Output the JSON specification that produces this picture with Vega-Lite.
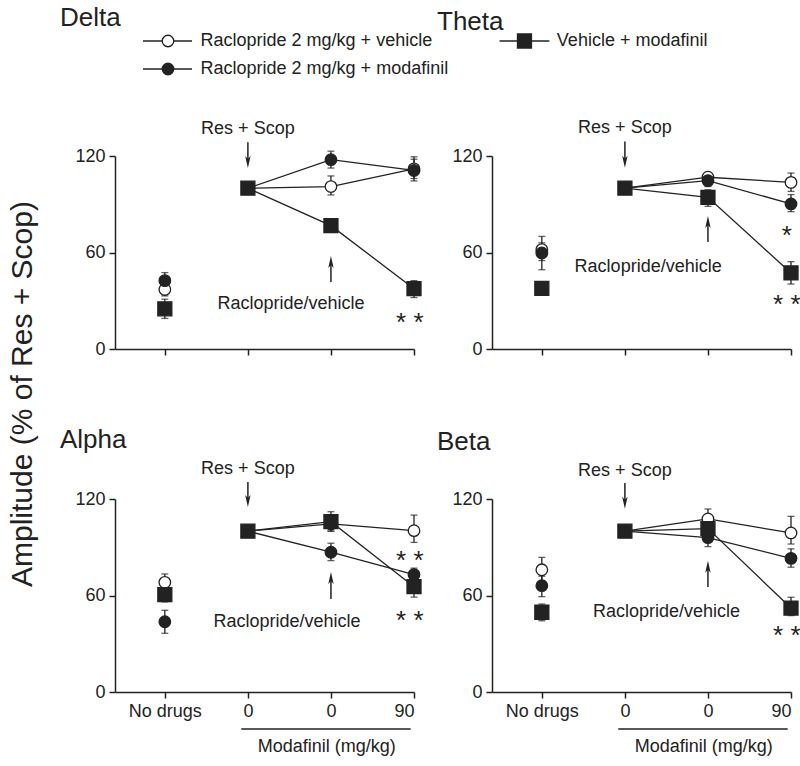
{
  "$schema": "https://vega.github.io/schema/vega-lite/v6.json",
  "background": "white",
  "padding": {"left": 7, "top": 5, "right": 4, "bottom": 4},
  "config": {
    "font": "Liberation Sans",
    "view": {"stroke": null},
    "axis": {"domainColor": "#222", "domainWidth": 1.5, "tickColor": "#222", "tickWidth": 1.5, "tickSize": 6, "labelFontSize": 18, "labelColor": "#222", "labelFont": "Liberation Sans", "grid": false, "labelPadding": 4},
    "title": {"fontSize": 26, "fontWeight": "normal", "color": "#222", "anchor": "start", "frame": "group", "dx": -55, "font": "Liberation Sans"}
  },
  "columns": 2,
  "spacing": {"row": 150, "column": 78},
  "bounds": "flush",
  "resolve": {"scale": {"fill": "independent", "shape": "independent"}},
  "datasets": {
    "pts": [
      {"p": "Delta", "g": "Raclopride 2 mg/kg + vehicle", "x": 0, "y": 37, "lo": 33, "hi": 41},
      {"p": "Delta", "g": "Raclopride 2 mg/kg + vehicle", "x": 1, "y": 100, "lo": null, "hi": null},
      {"p": "Delta", "g": "Raclopride 2 mg/kg + vehicle", "x": 2, "y": 101, "lo": 95.8, "hi": 107.6},
      {"p": "Delta", "g": "Raclopride 2 mg/kg + vehicle", "x": 3, "y": 112, "lo": 106, "hi": 118},
      {"p": "Delta", "g": "Raclopride 2 mg/kg + modafinil", "x": 0, "y": 42.5, "lo": 38, "hi": 47.5},
      {"p": "Delta", "g": "Raclopride 2 mg/kg + modafinil", "x": 1, "y": 100, "lo": null, "hi": null},
      {"p": "Delta", "g": "Raclopride 2 mg/kg + modafinil", "x": 2, "y": 117.7, "lo": 112.5, "hi": 123},
      {"p": "Delta", "g": "Raclopride 2 mg/kg + modafinil", "x": 3, "y": 111, "lo": 104.5, "hi": 119.5},
      {"p": "Delta", "g": "Vehicle + modafinil", "x": 0, "y": 25, "lo": 19, "hi": 31},
      {"p": "Delta", "g": "Vehicle + modafinil", "x": 1, "y": 100, "lo": null, "hi": null},
      {"p": "Delta", "g": "Vehicle + modafinil", "x": 2, "y": 76.7, "lo": 72.5, "hi": 80.5},
      {"p": "Delta", "g": "Vehicle + modafinil", "x": 3, "y": 37.5, "lo": 32, "hi": 42.5},
      {"p": "Theta", "g": "Raclopride 2 mg/kg + vehicle", "x": 0, "y": 61.8, "lo": 55, "hi": 70},
      {"p": "Theta", "g": "Raclopride 2 mg/kg + vehicle", "x": 1, "y": 100, "lo": null, "hi": null},
      {"p": "Theta", "g": "Raclopride 2 mg/kg + vehicle", "x": 2, "y": 106.8, "lo": 103, "hi": 109.8},
      {"p": "Theta", "g": "Raclopride 2 mg/kg + vehicle", "x": 3, "y": 103.6, "lo": 98, "hi": 109.4},
      {"p": "Theta", "g": "Raclopride 2 mg/kg + modafinil", "x": 0, "y": 59.7, "lo": 49.3, "hi": 66},
      {"p": "Theta", "g": "Raclopride 2 mg/kg + modafinil", "x": 1, "y": 100, "lo": null, "hi": null},
      {"p": "Theta", "g": "Raclopride 2 mg/kg + modafinil", "x": 2, "y": 104.7, "lo": 101, "hi": 108},
      {"p": "Theta", "g": "Raclopride 2 mg/kg + modafinil", "x": 3, "y": 90.2, "lo": 85.4, "hi": 96},
      {"p": "Theta", "g": "Vehicle + modafinil", "x": 0, "y": 37.7, "lo": 35.5, "hi": 40},
      {"p": "Theta", "g": "Vehicle + modafinil", "x": 1, "y": 100, "lo": null, "hi": null},
      {"p": "Theta", "g": "Vehicle + modafinil", "x": 2, "y": 94.3, "lo": 88.7, "hi": 99},
      {"p": "Theta", "g": "Vehicle + modafinil", "x": 3, "y": 47.3, "lo": 40.4, "hi": 54.3},
      {"p": "Alpha", "g": "Raclopride 2 mg/kg + vehicle", "x": 0, "y": 68.2, "lo": 63, "hi": 73.4},
      {"p": "Alpha", "g": "Raclopride 2 mg/kg + vehicle", "x": 1, "y": 100, "lo": null, "hi": null},
      {"p": "Alpha", "g": "Raclopride 2 mg/kg + vehicle", "x": 2, "y": 104.5, "lo": 100, "hi": 109},
      {"p": "Alpha", "g": "Raclopride 2 mg/kg + vehicle", "x": 3, "y": 100.3, "lo": 93, "hi": 110},
      {"p": "Alpha", "g": "Raclopride 2 mg/kg + modafinil", "x": 0, "y": 43.7, "lo": 36.5, "hi": 50.8},
      {"p": "Alpha", "g": "Raclopride 2 mg/kg + modafinil", "x": 1, "y": 100, "lo": null, "hi": null},
      {"p": "Alpha", "g": "Raclopride 2 mg/kg + modafinil", "x": 2, "y": 86.9, "lo": 81.7, "hi": 92.5},
      {"p": "Alpha", "g": "Raclopride 2 mg/kg + modafinil", "x": 3, "y": 73, "lo": 69.5, "hi": 77},
      {"p": "Alpha", "g": "Vehicle + modafinil", "x": 0, "y": 60.5, "lo": 56, "hi": 65},
      {"p": "Alpha", "g": "Vehicle + modafinil", "x": 1, "y": 100, "lo": null, "hi": null},
      {"p": "Alpha", "g": "Vehicle + modafinil", "x": 2, "y": 105.9, "lo": 100, "hi": 112.1},
      {"p": "Alpha", "g": "Vehicle + modafinil", "x": 3, "y": 65.5, "lo": 59, "hi": 72},
      {"p": "Beta", "g": "Raclopride 2 mg/kg + vehicle", "x": 0, "y": 76, "lo": 69, "hi": 83.7},
      {"p": "Beta", "g": "Raclopride 2 mg/kg + vehicle", "x": 1, "y": 100, "lo": null, "hi": null},
      {"p": "Beta", "g": "Raclopride 2 mg/kg + vehicle", "x": 2, "y": 107.6, "lo": 102, "hi": 113.8},
      {"p": "Beta", "g": "Raclopride 2 mg/kg + vehicle", "x": 3, "y": 98.9, "lo": 92, "hi": 109.2},
      {"p": "Beta", "g": "Raclopride 2 mg/kg + modafinil", "x": 0, "y": 66.1, "lo": 59.3, "hi": 72},
      {"p": "Beta", "g": "Raclopride 2 mg/kg + modafinil", "x": 1, "y": 100, "lo": null, "hi": null},
      {"p": "Beta", "g": "Raclopride 2 mg/kg + modafinil", "x": 2, "y": 96, "lo": 90.4, "hi": 101},
      {"p": "Beta", "g": "Raclopride 2 mg/kg + modafinil", "x": 3, "y": 83.1, "lo": 77.6, "hi": 89},
      {"p": "Beta", "g": "Vehicle + modafinil", "x": 0, "y": 49.6, "lo": 44.3, "hi": 54.7},
      {"p": "Beta", "g": "Vehicle + modafinil", "x": 1, "y": 100, "lo": null, "hi": null},
      {"p": "Beta", "g": "Vehicle + modafinil", "x": 2, "y": 101.6, "lo": 97, "hi": 106},
      {"p": "Beta", "g": "Vehicle + modafinil", "x": 3, "y": 52.2, "lo": 47.5, "hi": 58.9}
    ],
    "leg": [
      {"g": "Raclopride 2 mg/kg + vehicle", "x": 0.038, "y": 191.5, "lx1": -0.263, "lx2": 0.327, "tx": 0.43},
      {"g": "Raclopride 2 mg/kg + modafinil", "x": 0.038, "y": 174.1, "lx1": -0.263, "lx2": 0.327, "tx": 0.43},
      {"g": "Vehicle + modafinil", "x": 4.33, "y": 191.5, "lx1": 4.03, "lx2": 4.63, "tx": 4.72}
    ],
    "lab": [
      {"p": "Delta", "k": "a", "x": 1, "y": 137, "t": "Res + Scop"},
      {"p": "Delta", "k": "a", "x": 1.52, "y": 28, "t": "Raclopride/vehicle"},
      {"p": "Delta", "k": "s", "x": 2.95, "y": 20.7, "t": "* *"},
      {"p": "Theta", "k": "a", "x": 1, "y": 137.5, "t": "Res + Scop"},
      {"p": "Theta", "k": "a", "x": 1.28, "y": 51, "t": "Raclopride/vehicle"},
      {"p": "Theta", "k": "s", "x": 2.95, "y": 74.6, "t": "*"},
      {"p": "Theta", "k": "s", "x": 2.95, "y": 32, "t": "* *"},
      {"p": "Alpha", "k": "a", "x": 1, "y": 138.5, "t": "Res + Scop"},
      {"p": "Alpha", "k": "a", "x": 1.47, "y": 43.5, "t": "Raclopride/vehicle"},
      {"p": "Alpha", "k": "s", "x": 2.95, "y": 85.8, "t": "* *"},
      {"p": "Alpha", "k": "s", "x": 2.95, "y": 48.5, "t": "* *"},
      {"p": "Alpha", "k": "a", "x": 1.95, "y": -34, "t": "Modafinil (mg/kg)"},
      {"p": "Beta", "k": "a", "x": 1, "y": 137.5, "t": "Res + Scop"},
      {"p": "Beta", "k": "a", "x": 1.5, "y": 49.7, "t": "Raclopride/vehicle"},
      {"p": "Beta", "k": "s", "x": 2.95, "y": 39.2, "t": "* *"},
      {"p": "Beta", "k": "a", "x": 1.95, "y": -34, "t": "Modafinil (mg/kg)"}
    ],
    "arr": [
      {"p": "Delta", "x": 1, "y": 128.5, "h": 116.3, "d": "down"},
      {"p": "Delta", "x": 2, "y": 41.7, "h": 54.1, "d": "up"},
      {"p": "Theta", "x": 1, "y": 129, "h": 116.5, "d": "down"},
      {"p": "Theta", "x": 2, "y": 66.5, "h": 79, "d": "up"},
      {"p": "Alpha", "x": 1, "y": 130.5, "h": 118.7, "d": "down"},
      {"p": "Alpha", "x": 2, "y": 57.8, "h": 70.9, "d": "up"},
      {"p": "Beta", "x": 1, "y": 130, "h": 117.7, "d": "down"},
      {"p": "Beta", "x": 2, "y": 65.3, "h": 77.8, "d": "up"}
    ],
    "und": [
      {"p": "Alpha", "x": 0.92, "x2": 2.96, "y": -23},
      {"p": "Beta", "x": 0.92, "x2": 2.96, "y": -23}
    ],
    "yt": [
      {"x": -1.71, "y": -28, "t": "Amplitude (% of Res + Scop)"}
    ]
  },
  "concat": [
    {
      "width": 299, "height": 193,
      "title": {"text": "Delta", "offset": 0},
      "layer": [
        {"data": {"name": "pts"}, "transform": [{"filter": "datum.p == 'Delta' && isValid(datum.lo)"}],
         "mark": {"type": "errorbar", "ticks": true, "size": 7, "thickness": 1.3, "color": "#222"},
         "encoding": {
           "x": {"field": "x", "type": "quantitative", "title": null, "scale": {"domain": [-0.6, 3], "nice": false, "zero": false}, "axis": {"values": [0, 1, 2, 3], "labels": false}},
           "y": {"field": "lo", "type": "quantitative", "title": null, "scale": {"domain": [0, 120], "nice": false, "zero": false}, "axis": {"values": [0, 60, 120]}},
           "y2": {"field": "hi"}}},
        {"data": {"name": "pts"}, "transform": [{"filter": "datum.p == 'Delta' && datum.x >= 1"}],
         "mark": {"type": "line", "color": "#222", "strokeWidth": 1.3},
         "encoding": {"x": {"field": "x", "type": "quantitative", "title": null}, "y": {"field": "y", "type": "quantitative", "title": null}, "detail": {"field": "g"}}},
        {"data": {"name": "pts"}, "transform": [{"filter": "datum.p == 'Delta' && datum.g != 'Vehicle + modafinil'"}],
         "mark": {"type": "point", "filled": true, "size": 133, "stroke": "#222", "strokeWidth": 1.3, "opacity": 1},
         "encoding": {"x": {"field": "x", "type": "quantitative", "title": null}, "y": {"field": "y", "type": "quantitative", "title": null},
           "fill": {"field": "g", "type": "nominal", "scale": {"domain": ["Raclopride 2 mg/kg + vehicle", "Raclopride 2 mg/kg + modafinil", "Vehicle + modafinil"], "range": ["white", "#222", "#222"]}, "legend": null},
           "shape": {"field": "g", "type": "nominal", "scale": {"domain": ["Raclopride 2 mg/kg + vehicle", "Raclopride 2 mg/kg + modafinil", "Vehicle + modafinil"], "range": ["circle", "circle", "square"]}, "legend": null}}},
        {"data": {"name": "pts"}, "transform": [{"filter": "datum.p == 'Delta' && datum.g == 'Vehicle + modafinil'"}],
         "mark": {"type": "point", "filled": true, "size": 196, "stroke": "#222", "strokeWidth": 1.3, "opacity": 1},
         "encoding": {"x": {"field": "x", "type": "quantitative", "title": null}, "y": {"field": "y", "type": "quantitative", "title": null},
           "fill": {"field": "g", "type": "nominal", "legend": null}, "shape": {"field": "g", "type": "nominal", "legend": null}}},
        {"data": {"name": "leg"},
         "mark": {"type": "rule", "color": "#222", "strokeWidth": 1.3},
         "encoding": {"x": {"field": "lx1", "type": "quantitative", "title": null}, "x2": {"field": "lx2"}, "y": {"field": "y", "type": "quantitative", "title": null}}},
        {"data": {"name": "leg"}, "transform": [{"filter": "datum.g != 'Vehicle + modafinil'"}],
         "mark": {"type": "point", "filled": true, "size": 133, "stroke": "#222", "strokeWidth": 1.3, "opacity": 1},
         "encoding": {"x": {"field": "x", "type": "quantitative", "title": null}, "y": {"field": "y", "type": "quantitative", "title": null},
           "fill": {"field": "g", "type": "nominal", "legend": null}, "shape": {"field": "g", "type": "nominal", "legend": null}}},
        {"data": {"name": "leg"}, "transform": [{"filter": "datum.g == 'Vehicle + modafinil'"}],
         "mark": {"type": "point", "filled": true, "size": 196, "stroke": "#222", "strokeWidth": 1.3, "opacity": 1},
         "encoding": {"x": {"field": "x", "type": "quantitative", "title": null}, "y": {"field": "y", "type": "quantitative", "title": null},
           "fill": {"field": "g", "type": "nominal", "legend": null}, "shape": {"field": "g", "type": "nominal", "legend": null}}},
        {"data": {"name": "leg"},
         "mark": {"type": "text", "fontSize": 18, "color": "#222", "align": "left", "baseline": "middle"},
         "encoding": {"x": {"field": "tx", "type": "quantitative", "title": null}, "y": {"field": "y", "type": "quantitative", "title": null}, "text": {"field": "g"}}},
        {"data": {"name": "lab"}, "transform": [{"filter": "datum.p == 'Delta' && datum.k == 'a'"}],
         "mark": {"type": "text", "fontSize": 18, "color": "#222", "align": "center", "baseline": "middle"},
         "encoding": {"x": {"field": "x", "type": "quantitative", "title": null}, "y": {"field": "y", "type": "quantitative", "title": null}, "text": {"field": "t"}}},
        {"data": {"name": "lab"}, "transform": [{"filter": "datum.p == 'Delta' && datum.k == 's'"}],
         "mark": {"type": "text", "fontSize": 26, "color": "#222", "align": "center", "baseline": "middle", "dy": 7},
         "encoding": {"x": {"field": "x", "type": "quantitative", "title": null}, "y": {"field": "y", "type": "quantitative", "title": null}, "text": {"field": "t"}}},
        {"data": {"name": "arr"}, "transform": [{"filter": "datum.p == 'Delta'"}],
         "mark": {"type": "rule", "color": "#222", "strokeWidth": 1.5},
         "encoding": {"x": {"field": "x", "type": "quantitative", "title": null}, "y": {"field": "y", "type": "quantitative", "title": null}, "y2": {"field": "h"}}},
        {"data": {"name": "arr"}, "transform": [{"filter": "datum.p == 'Delta' && datum.d == 'down'"}],
         "mark": {"type": "point", "filled": true, "opacity": 1, "color": "#222", "size": 144, "shape": "M-0.45,-1L0,1L0.45,-1L0,-0.5Z"},
         "encoding": {"x": {"field": "x", "type": "quantitative", "title": null}, "y": {"field": "h", "type": "quantitative", "title": null}}},
        {"data": {"name": "arr"}, "transform": [{"filter": "datum.p == 'Delta' && datum.d == 'up'"}],
         "mark": {"type": "point", "filled": true, "opacity": 1, "color": "#222", "size": 144, "shape": "M-0.45,1L0,-1L0.45,1L0,0.5Z"},
         "encoding": {"x": {"field": "x", "type": "quantitative", "title": null}, "y": {"field": "h", "type": "quantitative", "title": null}}},
        {"data": {"name": "yt"},
         "mark": {"type": "text", "fontSize": 30, "color": "#222", "align": "center", "baseline": "middle", "angle": 270},
         "encoding": {"x": {"field": "x", "type": "quantitative", "title": null}, "y": {"field": "y", "type": "quantitative", "title": null}, "text": {"field": "t"}}}
      ]
    },
    {
      "width": 299, "height": 193,
      "title": {"text": "Theta", "offset": 84},
      "layer": [
        {"data": {"name": "pts"}, "transform": [{"filter": "datum.p == 'Theta' && isValid(datum.lo)"}],
         "mark": {"type": "errorbar", "ticks": true, "size": 7, "thickness": 1.3, "color": "#222"},
         "encoding": {
           "x": {"field": "x", "type": "quantitative", "title": null, "scale": {"domain": [-0.6, 3], "nice": false, "zero": false}, "axis": {"values": [0, 1, 2, 3], "labels": false}},
           "y": {"field": "lo", "type": "quantitative", "title": null, "scale": {"domain": [0, 120], "nice": false, "zero": false}, "axis": {"values": [0, 60, 120]}},
           "y2": {"field": "hi"}}},
        {"data": {"name": "pts"}, "transform": [{"filter": "datum.p == 'Theta' && datum.x >= 1"}],
         "mark": {"type": "line", "color": "#222", "strokeWidth": 1.3},
         "encoding": {"x": {"field": "x", "type": "quantitative", "title": null}, "y": {"field": "y", "type": "quantitative", "title": null}, "detail": {"field": "g"}}},
        {"data": {"name": "pts"}, "transform": [{"filter": "datum.p == 'Theta' && datum.g != 'Vehicle + modafinil'"}],
         "mark": {"type": "point", "filled": true, "size": 133, "stroke": "#222", "strokeWidth": 1.3, "opacity": 1},
         "encoding": {"x": {"field": "x", "type": "quantitative", "title": null}, "y": {"field": "y", "type": "quantitative", "title": null},
           "fill": {"field": "g", "type": "nominal", "scale": {"domain": ["Raclopride 2 mg/kg + vehicle", "Raclopride 2 mg/kg + modafinil", "Vehicle + modafinil"], "range": ["white", "#222", "#222"]}, "legend": null},
           "shape": {"field": "g", "type": "nominal", "scale": {"domain": ["Raclopride 2 mg/kg + vehicle", "Raclopride 2 mg/kg + modafinil", "Vehicle + modafinil"], "range": ["circle", "circle", "square"]}, "legend": null}}},
        {"data": {"name": "pts"}, "transform": [{"filter": "datum.p == 'Theta' && datum.g == 'Vehicle + modafinil'"}],
         "mark": {"type": "point", "filled": true, "size": 196, "stroke": "#222", "strokeWidth": 1.3, "opacity": 1},
         "encoding": {"x": {"field": "x", "type": "quantitative", "title": null}, "y": {"field": "y", "type": "quantitative", "title": null},
           "fill": {"field": "g", "type": "nominal", "legend": null}, "shape": {"field": "g", "type": "nominal", "legend": null}}},
        {"data": {"name": "lab"}, "transform": [{"filter": "datum.p == 'Theta' && datum.k == 'a'"}],
         "mark": {"type": "text", "fontSize": 18, "color": "#222", "align": "center", "baseline": "middle"},
         "encoding": {"x": {"field": "x", "type": "quantitative", "title": null}, "y": {"field": "y", "type": "quantitative", "title": null}, "text": {"field": "t"}}},
        {"data": {"name": "lab"}, "transform": [{"filter": "datum.p == 'Theta' && datum.k == 's'"}],
         "mark": {"type": "text", "fontSize": 26, "color": "#222", "align": "center", "baseline": "middle", "dy": 7},
         "encoding": {"x": {"field": "x", "type": "quantitative", "title": null}, "y": {"field": "y", "type": "quantitative", "title": null}, "text": {"field": "t"}}},
        {"data": {"name": "arr"}, "transform": [{"filter": "datum.p == 'Theta'"}],
         "mark": {"type": "rule", "color": "#222", "strokeWidth": 1.5},
         "encoding": {"x": {"field": "x", "type": "quantitative", "title": null}, "y": {"field": "y", "type": "quantitative", "title": null}, "y2": {"field": "h"}}},
        {"data": {"name": "arr"}, "transform": [{"filter": "datum.p == 'Theta' && datum.d == 'down'"}],
         "mark": {"type": "point", "filled": true, "opacity": 1, "color": "#222", "size": 144, "shape": "M-0.45,-1L0,1L0.45,-1L0,-0.5Z"},
         "encoding": {"x": {"field": "x", "type": "quantitative", "title": null}, "y": {"field": "h", "type": "quantitative", "title": null}}},
        {"data": {"name": "arr"}, "transform": [{"filter": "datum.p == 'Theta' && datum.d == 'up'"}],
         "mark": {"type": "point", "filled": true, "opacity": 1, "color": "#222", "size": 144, "shape": "M-0.45,1L0,-1L0.45,1L0,0.5Z"},
         "encoding": {"x": {"field": "x", "type": "quantitative", "title": null}, "y": {"field": "h", "type": "quantitative", "title": null}}}
      ]
    },
    {
      "width": 299, "height": 193,
      "title": {"text": "Alpha", "offset": 7},
      "layer": [
        {"data": {"name": "pts"}, "transform": [{"filter": "datum.p == 'Alpha' && isValid(datum.lo)"}],
         "mark": {"type": "errorbar", "ticks": true, "size": 7, "thickness": 1.3, "color": "#222"},
         "encoding": {
           "x": {"field": "x", "type": "quantitative", "title": null, "scale": {"domain": [-0.6, 3], "nice": false, "zero": false}, "axis": {"values": [0, 1, 2, 3], "labelExpr": "datum.value === 0 ? 'No drugs' : (datum.value === 3 ? '90' : '0')"}},
           "y": {"field": "lo", "type": "quantitative", "title": null, "scale": {"domain": [0, 120], "nice": false, "zero": false}, "axis": {"values": [0, 60, 120]}},
           "y2": {"field": "hi"}}},
        {"data": {"name": "pts"}, "transform": [{"filter": "datum.p == 'Alpha' && datum.x >= 1"}],
         "mark": {"type": "line", "color": "#222", "strokeWidth": 1.3},
         "encoding": {"x": {"field": "x", "type": "quantitative", "title": null}, "y": {"field": "y", "type": "quantitative", "title": null}, "detail": {"field": "g"}}},
        {"data": {"name": "pts"}, "transform": [{"filter": "datum.p == 'Alpha' && datum.g != 'Vehicle + modafinil'"}],
         "mark": {"type": "point", "filled": true, "size": 133, "stroke": "#222", "strokeWidth": 1.3, "opacity": 1},
         "encoding": {"x": {"field": "x", "type": "quantitative", "title": null}, "y": {"field": "y", "type": "quantitative", "title": null},
           "fill": {"field": "g", "type": "nominal", "scale": {"domain": ["Raclopride 2 mg/kg + vehicle", "Raclopride 2 mg/kg + modafinil", "Vehicle + modafinil"], "range": ["white", "#222", "#222"]}, "legend": null},
           "shape": {"field": "g", "type": "nominal", "scale": {"domain": ["Raclopride 2 mg/kg + vehicle", "Raclopride 2 mg/kg + modafinil", "Vehicle + modafinil"], "range": ["circle", "circle", "square"]}, "legend": null}}},
        {"data": {"name": "pts"}, "transform": [{"filter": "datum.p == 'Alpha' && datum.g == 'Vehicle + modafinil'"}],
         "mark": {"type": "point", "filled": true, "size": 196, "stroke": "#222", "strokeWidth": 1.3, "opacity": 1},
         "encoding": {"x": {"field": "x", "type": "quantitative", "title": null}, "y": {"field": "y", "type": "quantitative", "title": null},
           "fill": {"field": "g", "type": "nominal", "legend": null}, "shape": {"field": "g", "type": "nominal", "legend": null}}},
        {"data": {"name": "lab"}, "transform": [{"filter": "datum.p == 'Alpha' && datum.k == 'a'"}],
         "mark": {"type": "text", "fontSize": 18, "color": "#222", "align": "center", "baseline": "middle"},
         "encoding": {"x": {"field": "x", "type": "quantitative", "title": null}, "y": {"field": "y", "type": "quantitative", "title": null}, "text": {"field": "t"}}},
        {"data": {"name": "lab"}, "transform": [{"filter": "datum.p == 'Alpha' && datum.k == 's'"}],
         "mark": {"type": "text", "fontSize": 26, "color": "#222", "align": "center", "baseline": "middle", "dy": 7},
         "encoding": {"x": {"field": "x", "type": "quantitative", "title": null}, "y": {"field": "y", "type": "quantitative", "title": null}, "text": {"field": "t"}}},
        {"data": {"name": "arr"}, "transform": [{"filter": "datum.p == 'Alpha'"}],
         "mark": {"type": "rule", "color": "#222", "strokeWidth": 1.5},
         "encoding": {"x": {"field": "x", "type": "quantitative", "title": null}, "y": {"field": "y", "type": "quantitative", "title": null}, "y2": {"field": "h"}}},
        {"data": {"name": "arr"}, "transform": [{"filter": "datum.p == 'Alpha' && datum.d == 'down'"}],
         "mark": {"type": "point", "filled": true, "opacity": 1, "color": "#222", "size": 144, "shape": "M-0.45,-1L0,1L0.45,-1L0,-0.5Z"},
         "encoding": {"x": {"field": "x", "type": "quantitative", "title": null}, "y": {"field": "h", "type": "quantitative", "title": null}}},
        {"data": {"name": "arr"}, "transform": [{"filter": "datum.p == 'Alpha' && datum.d == 'up'"}],
         "mark": {"type": "point", "filled": true, "opacity": 1, "color": "#222", "size": 144, "shape": "M-0.45,1L0,-1L0.45,1L0,0.5Z"},
         "encoding": {"x": {"field": "x", "type": "quantitative", "title": null}, "y": {"field": "h", "type": "quantitative", "title": null}}},
        {"data": {"name": "und"}, "transform": [{"filter": "datum.p == 'Alpha'"}],
         "mark": {"type": "rule", "color": "#222", "strokeWidth": 1.5},
         "encoding": {"x": {"field": "x", "type": "quantitative", "title": null}, "x2": {"field": "x2"}, "y": {"field": "y", "type": "quantitative", "title": null}}}
      ]
    },
    {
      "width": 299, "height": 193,
      "title": {"text": "Beta", "offset": 7},
      "layer": [
        {"data": {"name": "pts"}, "transform": [{"filter": "datum.p == 'Beta' && isValid(datum.lo)"}],
         "mark": {"type": "errorbar", "ticks": true, "size": 7, "thickness": 1.3, "color": "#222"},
         "encoding": {
           "x": {"field": "x", "type": "quantitative", "title": null, "scale": {"domain": [-0.6, 3], "nice": false, "zero": false}, "axis": {"values": [0, 1, 2, 3], "labelExpr": "datum.value === 0 ? 'No drugs' : (datum.value === 3 ? '90' : '0')"}},
           "y": {"field": "lo", "type": "quantitative", "title": null, "scale": {"domain": [0, 120], "nice": false, "zero": false}, "axis": {"values": [0, 60, 120]}},
           "y2": {"field": "hi"}}},
        {"data": {"name": "pts"}, "transform": [{"filter": "datum.p == 'Beta' && datum.x >= 1"}],
         "mark": {"type": "line", "color": "#222", "strokeWidth": 1.3},
         "encoding": {"x": {"field": "x", "type": "quantitative", "title": null}, "y": {"field": "y", "type": "quantitative", "title": null}, "detail": {"field": "g"}}},
        {"data": {"name": "pts"}, "transform": [{"filter": "datum.p == 'Beta' && datum.g != 'Vehicle + modafinil'"}],
         "mark": {"type": "point", "filled": true, "size": 133, "stroke": "#222", "strokeWidth": 1.3, "opacity": 1},
         "encoding": {"x": {"field": "x", "type": "quantitative", "title": null}, "y": {"field": "y", "type": "quantitative", "title": null},
           "fill": {"field": "g", "type": "nominal", "scale": {"domain": ["Raclopride 2 mg/kg + vehicle", "Raclopride 2 mg/kg + modafinil", "Vehicle + modafinil"], "range": ["white", "#222", "#222"]}, "legend": null},
           "shape": {"field": "g", "type": "nominal", "scale": {"domain": ["Raclopride 2 mg/kg + vehicle", "Raclopride 2 mg/kg + modafinil", "Vehicle + modafinil"], "range": ["circle", "circle", "square"]}, "legend": null}}},
        {"data": {"name": "pts"}, "transform": [{"filter": "datum.p == 'Beta' && datum.g == 'Vehicle + modafinil'"}],
         "mark": {"type": "point", "filled": true, "size": 196, "stroke": "#222", "strokeWidth": 1.3, "opacity": 1},
         "encoding": {"x": {"field": "x", "type": "quantitative", "title": null}, "y": {"field": "y", "type": "quantitative", "title": null},
           "fill": {"field": "g", "type": "nominal", "legend": null}, "shape": {"field": "g", "type": "nominal", "legend": null}}},
        {"data": {"name": "lab"}, "transform": [{"filter": "datum.p == 'Beta' && datum.k == 'a'"}],
         "mark": {"type": "text", "fontSize": 18, "color": "#222", "align": "center", "baseline": "middle"},
         "encoding": {"x": {"field": "x", "type": "quantitative", "title": null}, "y": {"field": "y", "type": "quantitative", "title": null}, "text": {"field": "t"}}},
        {"data": {"name": "lab"}, "transform": [{"filter": "datum.p == 'Beta' && datum.k == 's'"}],
         "mark": {"type": "text", "fontSize": 26, "color": "#222", "align": "center", "baseline": "middle", "dy": 7},
         "encoding": {"x": {"field": "x", "type": "quantitative", "title": null}, "y": {"field": "y", "type": "quantitative", "title": null}, "text": {"field": "t"}}},
        {"data": {"name": "arr"}, "transform": [{"filter": "datum.p == 'Beta'"}],
         "mark": {"type": "rule", "color": "#222", "strokeWidth": 1.5},
         "encoding": {"x": {"field": "x", "type": "quantitative", "title": null}, "y": {"field": "y", "type": "quantitative", "title": null}, "y2": {"field": "h"}}},
        {"data": {"name": "arr"}, "transform": [{"filter": "datum.p == 'Beta' && datum.d == 'down'"}],
         "mark": {"type": "point", "filled": true, "opacity": 1, "color": "#222", "size": 144, "shape": "M-0.45,-1L0,1L0.45,-1L0,-0.5Z"},
         "encoding": {"x": {"field": "x", "type": "quantitative", "title": null}, "y": {"field": "h", "type": "quantitative", "title": null}}},
        {"data": {"name": "arr"}, "transform": [{"filter": "datum.p == 'Beta' && datum.d == 'up'"}],
         "mark": {"type": "point", "filled": true, "opacity": 1, "color": "#222", "size": 144, "shape": "M-0.45,1L0,-1L0.45,1L0,0.5Z"},
         "encoding": {"x": {"field": "x", "type": "quantitative", "title": null}, "y": {"field": "h", "type": "quantitative", "title": null}}},
        {"data": {"name": "und"}, "transform": [{"filter": "datum.p == 'Beta'"}],
         "mark": {"type": "rule", "color": "#222", "strokeWidth": 1.5},
         "encoding": {"x": {"field": "x", "type": "quantitative", "title": null}, "x2": {"field": "x2"}, "y": {"field": "y", "type": "quantitative", "title": null}}}
      ]
    }
  ]
}
